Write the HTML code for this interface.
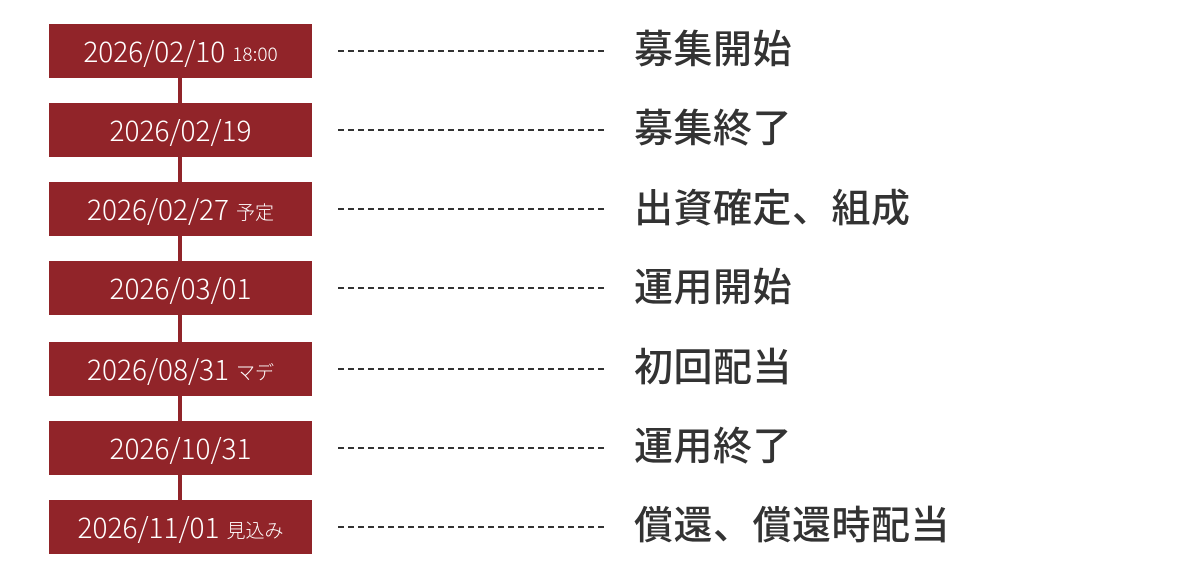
<!DOCTYPE html>
<html><head><meta charset="utf-8"><style>
body{margin:0;width:1200px;height:580px;background:#fff;position:relative;overflow:hidden;font-family:"Noto Sans CJK JP",sans-serif}
.b{position:absolute;left:49px;width:263px;height:54px;background:#912429;color:#fff;font-size:28px;font-weight:300;display:flex;align-items:center;justify-content:center;white-space:nowrap;line-height:30px}
.b small{font-size:19px;margin-left:7px;margin-top:6px;font-weight:300}
.v{position:absolute;left:178px;width:4px;background:#912429}
.d{position:absolute;left:338px;width:268px;height:2px;background:repeating-linear-gradient(90deg,#333 0 6px,transparent 6px 10px)}
.t{position:absolute;left:634px;font-size:39px;font-weight:500;color:#333;line-height:44px;white-space:nowrap;letter-spacing:0.5px}
</style></head><body>
<div class="v" style="top:78px;height:430px"></div>
<div class="b" style="top:24px">2026/02/10<small>18:00</small></div>
<div class="b" style="top:103px">2026/02/19</div>
<div class="b" style="top:182px">2026/02/27<small>予定</small></div>
<div class="b" style="top:261px">2026/03/01</div>
<div class="b" style="top:342px">2026/08/31<small>マデ</small></div>
<div class="b" style="top:421px">2026/10/31</div>
<div class="b" style="top:500px">2026/11/01<small>見込み</small></div>
<div class="d" style="top:50px"></div>
<div class="d" style="top:129px"></div>
<div class="d" style="top:208px"></div>
<div class="d" style="top:287px"></div>
<div class="d" style="top:368px"></div>
<div class="d" style="top:447px"></div>
<div class="d" style="top:526px"></div>
<div class="t" style="top:25px">募集開始</div>
<div class="t" style="top:104px">募集終了</div>
<div class="t" style="top:184px">出資確定、組成</div>
<div class="t" style="top:263px">運用開始</div>
<div class="t" style="top:343px">初回配当</div>
<div class="t" style="top:422px">運用終了</div>
<div class="t" style="top:501px">償還、償還時配当</div>
</body></html>
